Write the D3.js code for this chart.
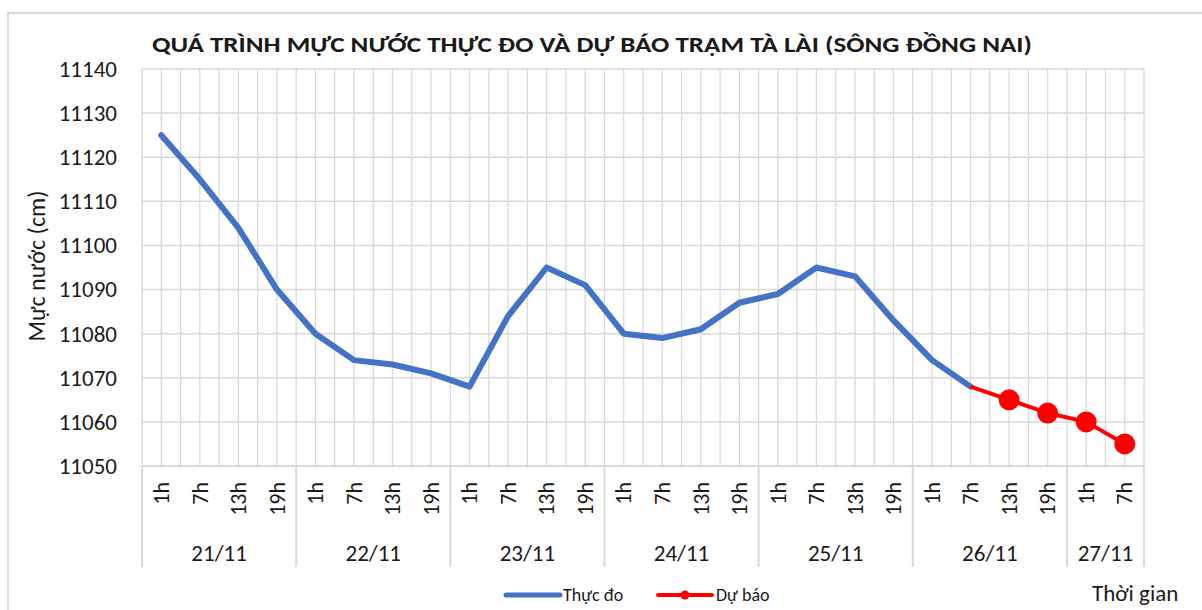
<!DOCTYPE html>
<html>
<head>
<meta charset="utf-8">
<script src="https://cdn.jsdelivr.net/npm/d3@7"></script>
<style>
  body { margin: 0; background: #fff; }
  svg text { font-family: Carlito, Lato, "Open Sans", sans-serif; fill: #1a1a1a; }
</style>
</head>
<body>
<div id="chart"></div>
<script>
// page size
var width = 1202;
var height = 610;

var blueColor = '#4472C4'
var redColor = '#FF0000'
var gridColor = '#d9d9d9'

// hour label and day of every point
var hourLabels = ["1h","7h","13h","19h", "1h","7h","13h","19h", "1h","7h","13h","19h",
                  "1h","7h","13h","19h", "1h","7h","13h","19h", "1h","7h","13h","19h",
                  "1h","7h"];
var dayLabels = ["21/11","21/11","21/11","21/11", "22/11","22/11","22/11","22/11",
                 "23/11","23/11","23/11","23/11", "24/11","24/11","24/11","24/11",
                 "25/11","25/11","25/11","25/11", "26/11","26/11","26/11","26/11",
                 "27/11","27/11"];

// measured water level (cm)
var observed = [11125, 11115, 11104, 11090, 11080, 11074, 11073, 11071, 11068, 11084,
                11095, 11091, 11080, 11079, 11081, 11087, 11089, 11095, 11093, 11083,
                11074, 11068, null, null, null, null];
// forecast water level (cm)
var forecast = [null, null, null, null, null, null, null, null, null, null,
                null, null, null, null, null, null, null, null, null, null,
                null, 11068, 11065, 11062, 11060, 11055];
// points of the forecast that carry a marker
var forecastMarked = [false, false, false, false, false, false, false, false, false, false,
                      false, false, false, false, false, false, false, false, false, false,
                      false, false, true, true, true, true];

var yTicks = [11050, 11060, 11070, 11080, 11090, 11100, 11110, 11120, 11130, 11140];

var plot = { left: 142, right: 1144, top: 69, bottom: 466 };

var svg = d3.select("#chart")
    .append("svg")
    .attr("width", width)
    .attr("height", height);

// chart frame (runs off the right and bottom edge)
svg.append("rect")
    .attr("x", 8)
    .attr("y", 13)
    .attr("width", 1220)
    .attr("height", 620)
    .style("fill", "none")
    .style("stroke", gridColor)
    .style("stroke-width", 2);

var idx = d3.range(hourLabels.length);

var x = d3.scaleBand()
    .domain(idx)
    .range([plot.left, plot.right])
    .padding(0);
var bw = x.bandwidth();
function cx(i) { return x(i) + bw / 2; }

var y = d3.scaleLinear()
    .domain([11050, 11140])
    .range([plot.bottom, plot.top]);

// vertical gridlines: category edges and centres
var vLines = [];
idx.forEach(function(i) { vLines.push(x(i)); vLines.push(cx(i)); });
vLines.push(plot.right);

svg.append("g")
    .selectAll("line")
    .data(vLines)
    .enter()
    .append("line")
    .attr("x1", function(d) { return d; })
    .attr("x2", function(d) { return d; })
    .attr("y1", plot.top)
    .attr("y2", plot.bottom)
    .style("stroke", gridColor)
    .style("stroke-width", 1.3);

// horizontal gridlines
svg.append("g")
    .selectAll("line")
    .data(yTicks)
    .enter()
    .append("line")
    .attr("x1", plot.left)
    .attr("x2", plot.right)
    .attr("y1", function(d) { return y(d); })
    .attr("y2", function(d) { return y(d); })
    .style("stroke", gridColor)
    .style("stroke-width", 1.5);

// y axis labels
var yAxis = d3.axisLeft(y)
    .tickValues(yTicks)
    .tickSize(0)
    .tickPadding(25)
    .tickFormat(d3.format("d"));

var yg = svg.append("g")
    .attr("transform", "translate(" + plot.left + ",0)")
    .call(yAxis);
yg.select(".domain").remove();
yg.selectAll("text")
    .style("font-size", "23px")
    .style("font-family", null);

svg.append("text")
    .attr("transform", "translate(45,266) rotate(-90)")
    .attr("text-anchor", "middle")
    .style("font-size", "24px")
    .text("Mực nước (cm)");

// x axis: hours (rotated) and days
svg.append("line")
    .attr("x1", plot.left)
    .attr("x2", plot.right)
    .attr("y1", plot.bottom)
    .attr("y2", plot.bottom)
    .style("stroke", gridColor)
    .style("stroke-width", 2);

svg.append("g")
    .selectAll("text")
    .data(idx)
    .enter()
    .append("text")
    .attr("transform", function(i) { return "translate(" + cx(i) + ",482) rotate(-90)"; })
    .attr("text-anchor", "end")
    .attr("dy", "0.35em")
    .style("font-size", "22px")
    .text(function(i) { return hourLabels[i]; });

var days = d3.groups(idx, function(i) { return dayLabels[i]; });

var sepX = days.map(function(g) { return x(g[1][0]); });
sepX.push(plot.right);

svg.append("g")
    .selectAll("line")
    .data(sepX)
    .enter()
    .append("line")
    .attr("x1", function(d) { return d; })
    .attr("x2", function(d) { return d; })
    .attr("y1", plot.bottom)
    .attr("y2", 567)
    .style("stroke", gridColor)
    .style("stroke-width", 2);

svg.append("g")
    .selectAll("text")
    .data(days)
    .enter()
    .append("text")
    .attr("x", function(g) {
        var first = g[1][0], last = g[1][g[1].length - 1];
        return (x(first) + x(last) + bw) / 2;
    })
    .attr("y", 561)
    .attr("text-anchor", "middle")
    .style("font-size", "23px")
    .text(function(g) { return g[0]; });

// lines
var line = d3.line()
    .defined(function(d) { return d.v != null; })
    .x(function(d) { return cx(d.i); })
    .y(function(d) { return y(d.v); });

svg.append("path")
    .datum(idx.map(function(i) { return { i: i, v: observed[i] }; }))
    .attr("d", line)
    .style("fill", "none")
    .style("stroke", blueColor)
    .style("stroke-width", 6)
    .style("stroke-linejoin", "round")
    .style("stroke-linecap", "round");

var fData = idx.map(function(i) { return { i: i, v: forecast[i], m: forecastMarked[i] }; });

svg.append("path")
    .datum(fData)
    .attr("d", line)
    .style("fill", "none")
    .style("stroke", redColor)
    .style("stroke-width", 4)
    .style("stroke-linejoin", "round");

svg.append("g")
    .selectAll("circle")
    .data(fData.filter(function(d) { return d.v != null && d.m; }))
    .enter()
    .append("circle")
    .attr("cx", function(d) { return cx(d.i); })
    .attr("cy", function(d) { return y(d.v); })
    .attr("r", 10.5)
    .style("fill", redColor);

// title
svg.append("text")
    .attr("x", 592)
    .attr("y", 52)
    .attr("text-anchor", "middle")
    .attr("textLength", 880)
    .attr("lengthAdjust", "spacingAndGlyphs")
    .style("font-size", "22px")
    .style("font-weight", "bold")
    .text("QUÁ TRÌNH MỰC NƯỚC THỰC ĐO VÀ DỰ BÁO TRẠM TÀ LÀI (SÔNG ĐỒNG NAI)");

// legend
var lg = svg.append("g");
lg.append("line")
    .attr("x1", 506).attr("x2", 560)
    .attr("y1", 595).attr("y2", 595)
    .style("stroke", blueColor)
    .style("stroke-width", 5)
    .style("stroke-linecap", "round");
lg.append("text")
    .attr("x", 563).attr("y", 601)
    .style("font-size", "18px")
    .text("Thực đo");
lg.append("line")
    .attr("x1", 658).attr("x2", 712)
    .attr("y1", 595).attr("y2", 595)
    .style("stroke", redColor)
    .style("stroke-width", 4)
    .style("stroke-linecap", "round");
lg.append("circle")
    .attr("cx", 685).attr("cy", 595)
    .attr("r", 4.5)
    .style("fill", redColor);
lg.append("text")
    .attr("x", 716).attr("y", 601)
    .style("font-size", "18px")
    .text("Dự báo");

// axis title at the bottom right
svg.append("text")
    .attr("x", 1092)
    .attr("y", 601)
    .style("font-size", "23px")
    .text("Thời gian");
</script>
</body>
</html>
